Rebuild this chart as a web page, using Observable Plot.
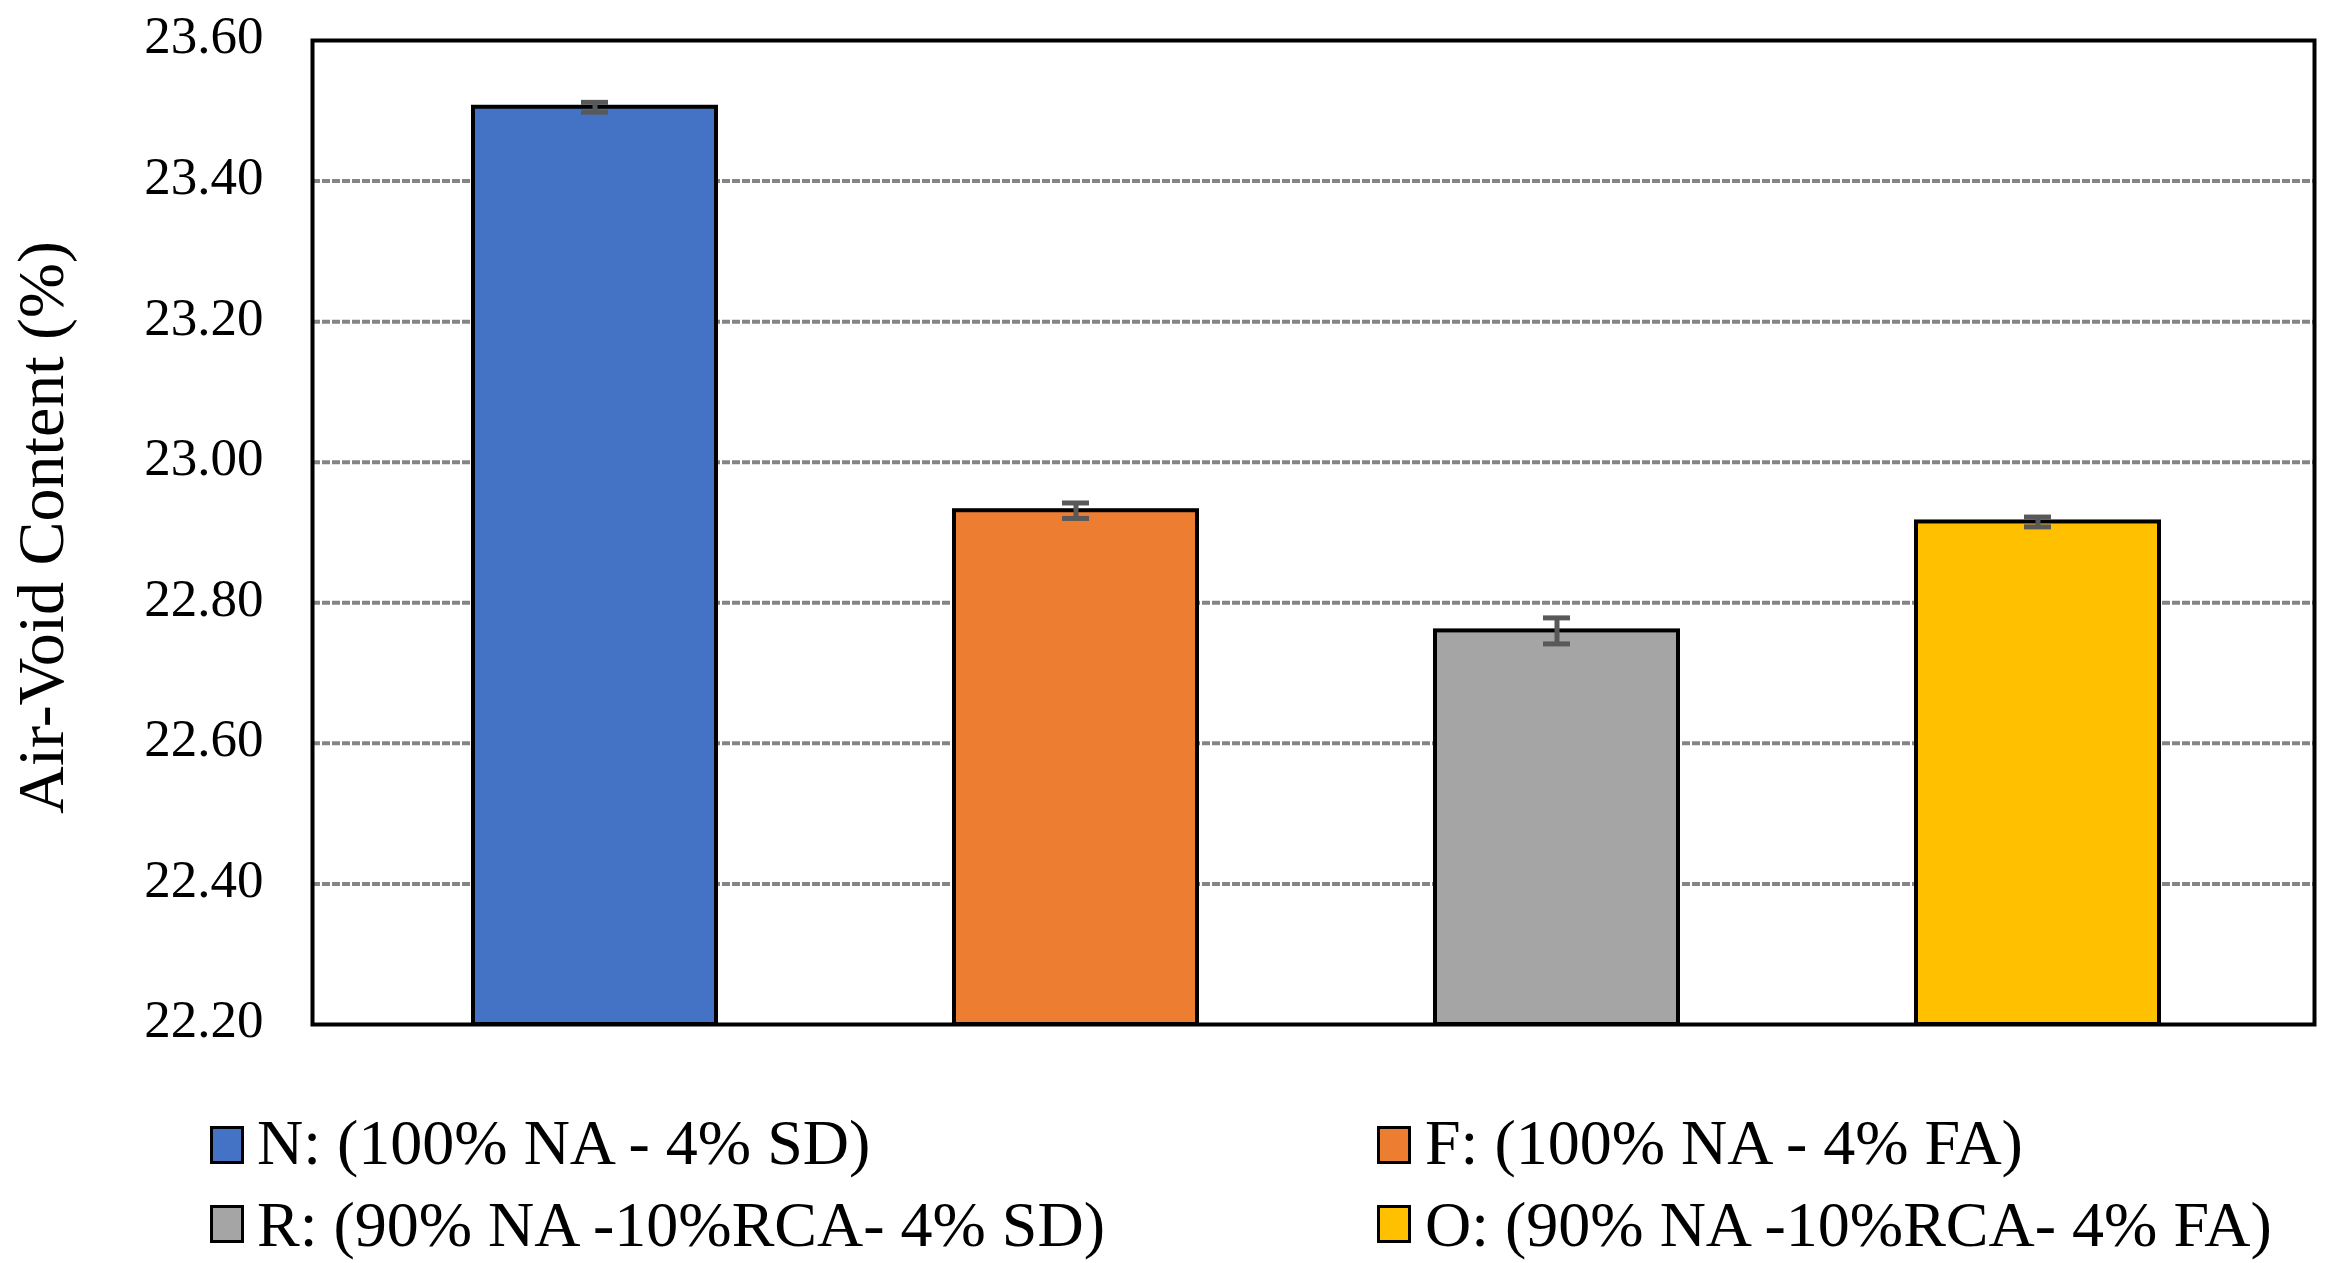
<!DOCTYPE html>
<html>
<head>
<meta charset="utf-8">
<script src="https://cdn.jsdelivr.net/npm/d3@7"></script>
<script src="https://cdn.jsdelivr.net/npm/@observablehq/plot@0.6"></script>
<style>
  html, body { margin: 0; padding: 0; background: #fff; }
  #wrap { position: relative; width: 2336px; height: 1263px; overflow: hidden; }
  #legend { position: absolute; left: 0; top: 1080px; width: 2336px; height: 183px;
    font-family: "Liberation Serif", "Times New Roman", serif; font-size: 64px; color: #000; }
  .sw { position: absolute; box-sizing: border-box; width: 34px; height: 38px; border: 3px solid #000; }
  .lt { position: absolute; line-height: 64px; white-space: nowrap; }
</style>
</head>
<body>
<div id="wrap">
  <div id="chart"></div>
  <div id="legend"></div>
</div>
<script>
const categories = ["N", "F", "R", "O"];
const values = [23.505, 22.931, 22.760, 22.915];
const errors = [0.007, 0.011, 0.0185, 0.007];
const colors = ["#4472C4", "#ED7D31", "#A5A5A5", "#FFC000"];
const legendLabels = [
  "N: (100% NA - 4% SD)",
  "F: (100% NA - 4% FA)",
  "R: (90% NA -10%RCA- 4% SD)",
  "O: (90% NA -10%RCA- 4% FA)"
];
const yTicks = [22.2, 22.4, 22.6, 22.8, 23.0, 23.2, 23.4, 23.6];
const gridValues = [22.4, 22.6, 22.8, 23.0, 23.2, 23.4];
const yLabel = "Air-Void Content (%)";

const data = categories.map((c, i) => ({cat: c, value: values[i], err: errors[i], color: colors[i]}));

const chart = Plot.plot({
  width: 2336,
  height: 1080,
  marginLeft: 312,
  marginRight: 22,
  marginTop: 40,
  marginBottom: 56,
  style: {fontFamily: "'Liberation Serif', 'Times New Roman', serif", background: "#fff", color: "#000"},
  x: {type: "band", domain: categories, range: [314.5, 2316.5], paddingInner: 0.495, paddingOuter: 0.3275, axis: null},
  y: {domain: [22.2, 23.6]},
  marks: [
    Plot.ruleY(gridValues, {y: d => d, stroke: "#858585", strokeWidth: 4, strokeDasharray: "8,2"}),
    Plot.barY(data, {x: "cat", y1: 22.2, y2: "value", fill: d => d.color, stroke: "#000", strokeWidth: 4}),
    Plot.ruleX(data, {x: "cat", y1: d => d.value - d.err, y2: d => d.value + d.err, stroke: "#595959", strokeWidth: 5}),
    Plot.tickY(data, {x: "cat", y: d => d.value + d.err, stroke: "#595959", strokeWidth: 5, insetLeft: 108, insetRight: 108}),
    Plot.tickY(data, {x: "cat", y: d => d.value - d.err, stroke: "#595959", strokeWidth: 5, insetLeft: 108, insetRight: 108}),
    Plot.axisY({ticks: yTicks, tickSize: 0, tickPadding: 49, fontSize: 53, dy: -4, tickFormat: d => d.toFixed(2), label: null}),
    Plot.text([yLabel], {frameAnchor: "left", text: d => d, rotate: -90, dx: -271, dy: -5, fontSize: 66, textAnchor: "middle", fill: "#000"}),
    Plot.frame({stroke: "#000", strokeWidth: 4})
  ]
});
document.getElementById("chart").appendChild(chart);

// Legend (HTML, below the SVG)
const legend = document.getElementById("legend");
const colX = [{sw: 210, tx: 257}, {sw: 1377, tx: 1425}];
const rowY = [{sw: 46, tx: 31}, {sw: 125, tx: 113}];
categories.forEach((c, i) => {
  const col = i % 2, row = Math.floor(i / 2);
  const sw = document.createElement("div");
  sw.className = "sw";
  sw.style.left = colX[col].sw + "px";
  sw.style.top = rowY[row].sw + "px";
  sw.style.background = colors[i];
  legend.appendChild(sw);
  const t = document.createElement("div");
  t.className = "lt";
  t.style.left = colX[col].tx + "px";
  t.style.top = rowY[row].tx + "px";
  t.textContent = legendLabels[i];
  legend.appendChild(t);
});
</script>
</body>
</html>
